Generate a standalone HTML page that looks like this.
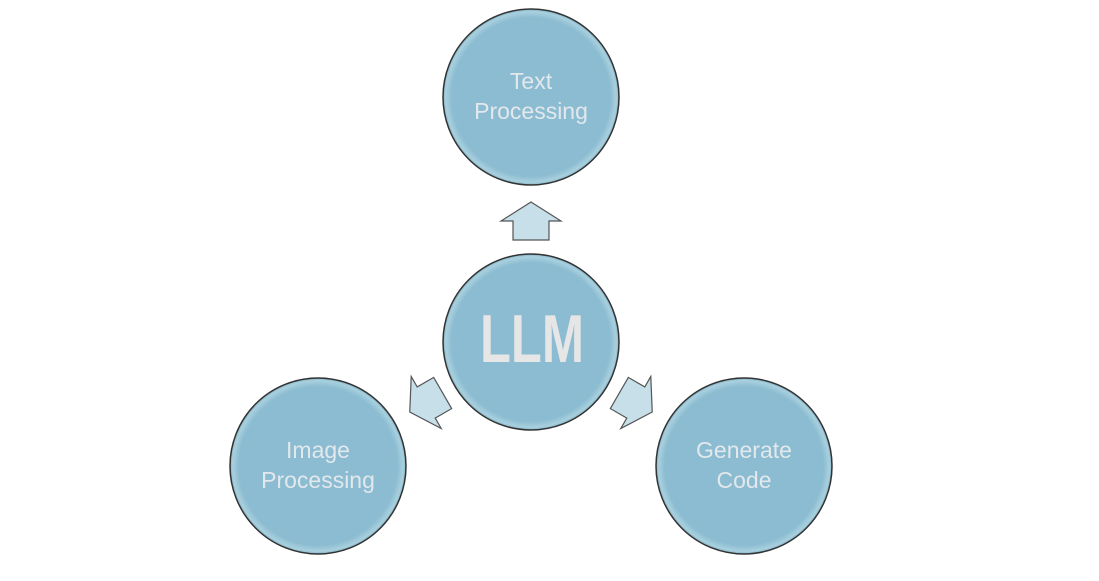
<!DOCTYPE html>
<html><head><style>body{margin:0;background:#fff}</style></head><body>
<svg width="1099" height="576" viewBox="0 0 1099 576" xmlns="http://www.w3.org/2000/svg">
<defs>
<radialGradient id="g" cx="0.5" cy="0.5" r="0.5">
<stop offset="0.9" stop-color="#8bbcd1"/><stop offset="0.97" stop-color="#a9d0de"/><stop offset="1" stop-color="#7fb2c6"/>
</radialGradient>
<g id="arr"><path d="M531,202 L561,221 L549,221 L549,240 L513,240 L513,221 L501,221 Z" fill="#c6dfe9" stroke="#555" stroke-width="1.2"/></g>
</defs>
<g stroke="#333" stroke-width="1.5" fill="url(#g)">
<circle cx="531" cy="97" r="88"/>
<circle cx="531" cy="342" r="88"/>
<circle cx="318" cy="466" r="88"/>
<circle cx="744" cy="466" r="88"/>
</g>
<use href="#arr"/>
<use href="#arr" transform="rotate(-120 531 342)"/>
<use href="#arr" transform="rotate(120 531 342)"/>
<g font-family="Liberation Sans, sans-serif" fill="#e2e8ec" font-size="23" text-anchor="middle">
<text x="531" y="89">Text</text><text x="531" y="119">Processing</text>
<text x="318" y="458">Image</text><text x="318" y="488">Processing</text>
<text x="744" y="458">Generate</text><text x="744" y="488">Code</text>
<text x="532" y="362" font-size="68" font-weight="bold" fill="#e6e6e6" textLength="104" lengthAdjust="spacingAndGlyphs">LLM</text>
</g>
</svg>
</body></html>
